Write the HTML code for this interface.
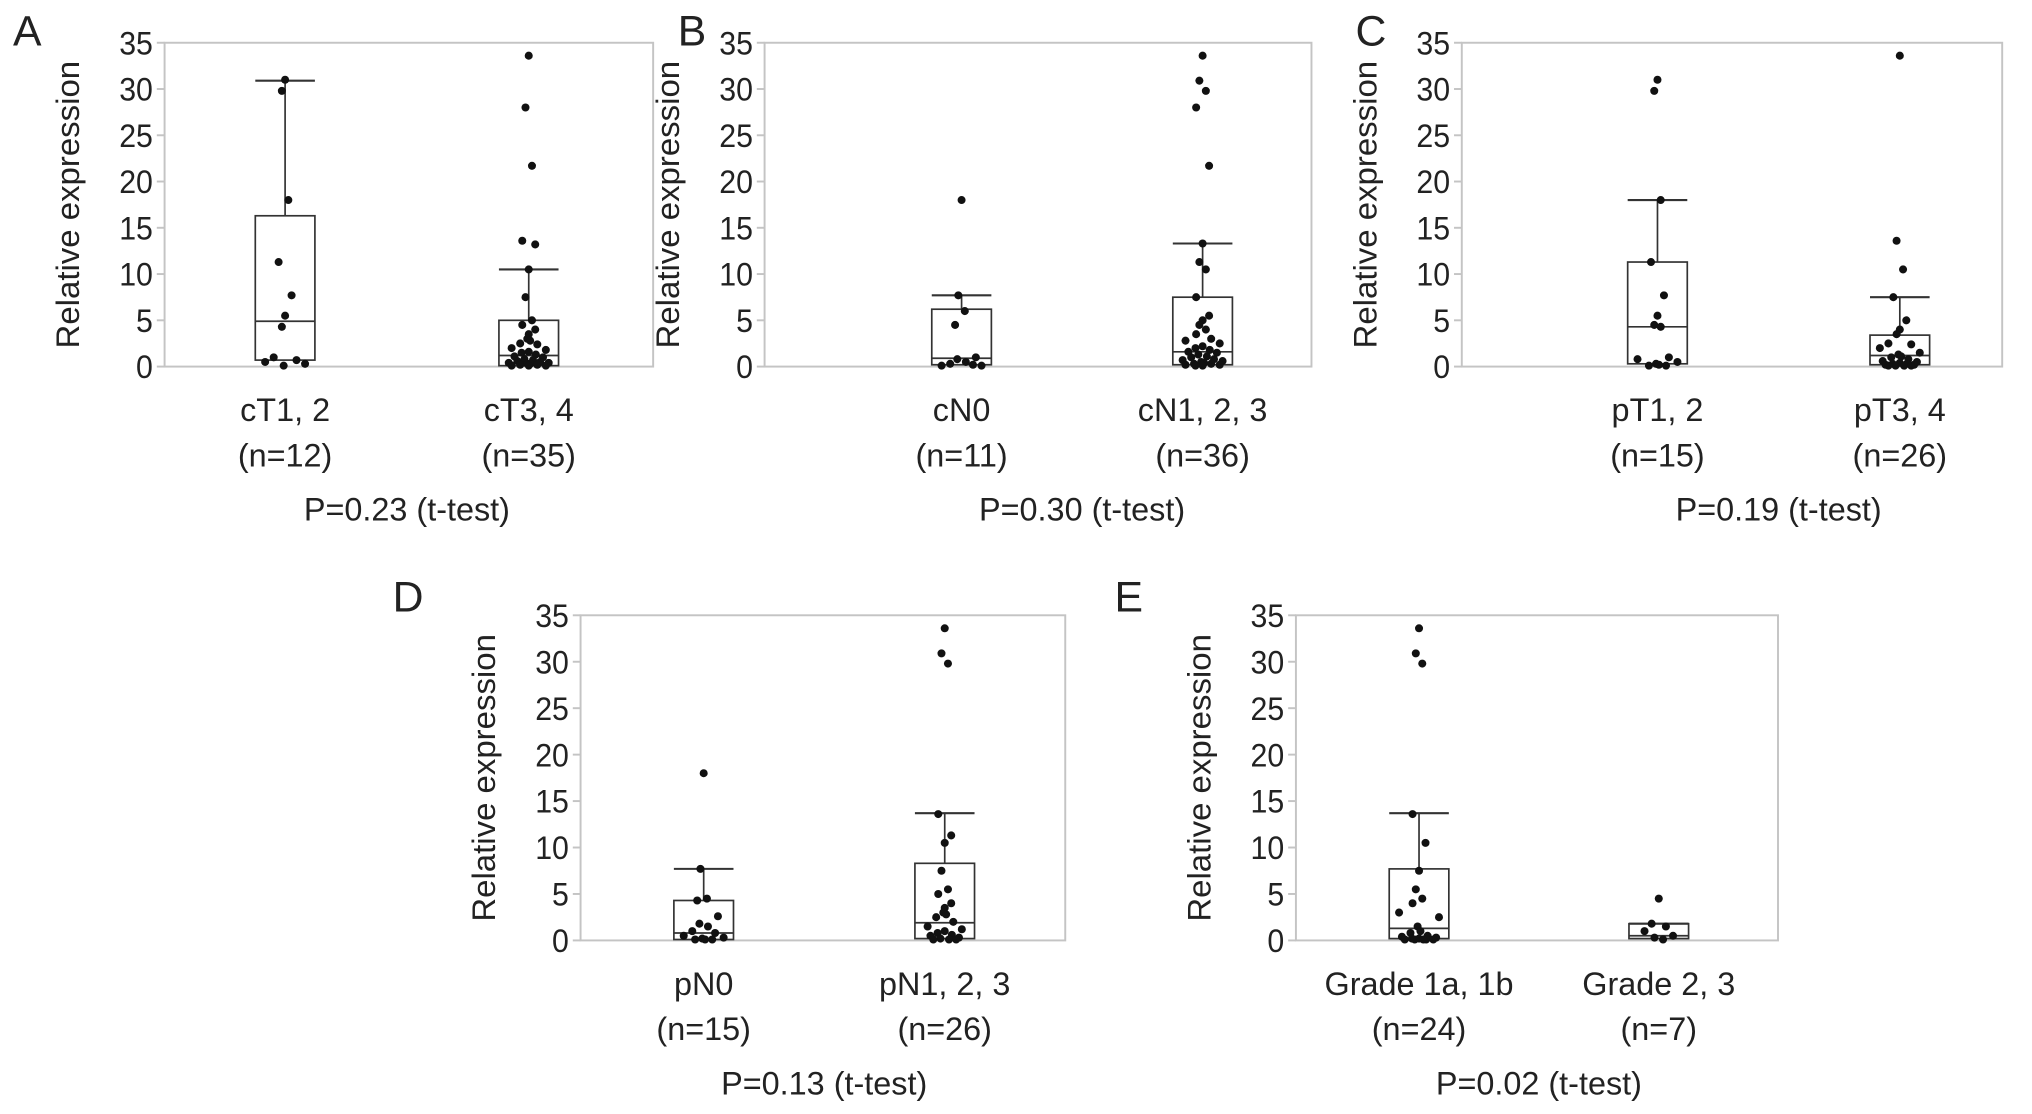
<!DOCTYPE html>
<html><head><meta charset="utf-8"><style>
html,body{margin:0;padding:0;background:#fff;}
svg{display:block;}
text{font-family:"Liberation Sans",Arial,sans-serif;fill:#222;}
</style></head>
<body>
<svg id="fig" width="2032" height="1114" viewBox="0 0 1568 860" preserveAspectRatio="none" xmlns="http://www.w3.org/2000/svg"></svg>
<script>
// ---- data ----
const yTicks = [0,5,10,15,20,25,30,35];
const panelLetters = ["A","B","C","D","E"];
const categoriesA = ["cT1, 2","cT3, 4"];
const categoriesB = ["cN0","cN1, 2, 3"];
const categoriesC = ["pT1, 2","pT3, 4"];
const categoriesD = ["pN0","pN1, 2, 3"];
const categoriesE = ["Grade 1a, 1b","Grade 2, 3"];
const nLabelsA = ["(n=12)","(n=35)"];
const nLabelsB = ["(n=11)","(n=36)"];
const nLabelsC = ["(n=15)","(n=26)"];
const nLabelsD = ["(n=15)","(n=26)"];
const nLabelsE = ["(n=24)","(n=7)"];
const pValues = ["P=0.23 (t-test)","P=0.30 (t-test)","P=0.19 (t-test)","P=0.13 (t-test)","P=0.02 (t-test)"];
// box stats: [q1, median, q3, whiskerTop]
const boxA = [[0.7,4.9,16.3,30.9],[0.1,1.2,5.0,10.5]];
const boxB = [[0.2,0.9,6.2,7.7],[0.2,1.6,7.5,13.3]];
const boxC = [[0.3,4.3,11.3,18.0],[0.2,1.2,3.4,7.5]];
const boxD = [[0.1,0.8,4.3,7.7],[0.2,1.9,8.3,13.7]];
const boxE = [[0.2,1.3,7.7,13.7],[0.2,0.5,1.8,1.8]];
// individual points
const ptsA1 = [31,29.8,18,11.3,7.7,5.5,4.3,1,0.7,0.5,0.3,0.1];
const ptsA2 = [33.6,28,21.7,13.6,13.2,10.5,7.5,5,4.5,4,3.5,3,2.8,2.5,2.4,2,1.8,1.6,1.5,1.3,1.1,1,0.8,0.7,0.6,0.5,0.4,0.4,0.3,0.3,0.2,0.2,0.1,0.1,0.1];
const ptsB1 = [18,7.7,6,4.5,1,0.8,0.5,0.3,0.2,0.1,0.1];
const ptsB2 = [33.6,30.9,29.8,28,21.7,13.3,11.3,10.5,7.5,5.5,5,4.5,4,3.5,3,2.8,2.5,2.2,2,1.8,1.6,1.5,1.3,1.1,1,0.8,0.7,0.6,0.5,0.4,0.3,0.3,0.2,0.2,0.1,0.1];
const ptsC1 = [31,29.8,18,11.3,7.7,5.5,4.5,4.3,1,0.8,0.5,0.3,0.2,0.1,0.1];
const ptsC2 = [33.6,13.6,10.5,7.5,5,4,3.5,2.5,2.4,2,1.5,1.3,1.1,1,0.8,0.6,0.5,0.4,0.3,0.3,0.2,0.2,0.1,0.1,0.1,0.1];
const ptsD1 = [18,7.7,4.5,4.3,2.6,1.8,1.5,1,0.8,0.5,0.3,0.2,0.1,0.1,0.1];
const ptsD2 = [33.6,30.9,29.8,13.6,11.3,10.5,7.5,5.5,5,4,3.5,3,2.8,2.5,2,1.5,1.2,1,0.8,0.6,0.5,0.3,0.2,0.1,0.1,0.1];
const ptsE1 = [33.6,30.9,29.8,13.6,10.5,7.5,5.5,4.5,4,3,2.5,1.5,1,0.8,0.5,0.4,0.3,0.2,0.2,0.1,0.1,0.1,0.1,0.1];
const ptsE2 = [4.5,1.8,1.5,1,0.5,0.3,0.1];

// ---- layout (style, not data) ----
const panels = [
 {x0:127,x1:504,y0:33,y1:283,cx:[220,408],lx:10,ly:35,cats:categoriesA,ns:nLabelsA,box:boxA,pts:[ptsA1,ptsA2]},
 {x0:590,x1:1012,y0:33,y1:283,cx:[742,928],lx:523,ly:35,cats:categoriesB,ns:nLabelsB,box:boxB,pts:[ptsB1,ptsB2]},
 {x0:1128,x1:1545,y0:33,y1:283,cx:[1279,1466],lx:1046,ly:35,cats:categoriesC,ns:nLabelsC,box:boxC,pts:[ptsC1,ptsC2]},
 {x0:448,x1:822,y0:475,y1:726,cx:[543,729],lx:303,ly:472,cats:categoriesD,ns:nLabelsD,box:boxD,pts:[ptsD1,ptsD2]},
 {x0:1000,x1:1372,y0:475,y1:726,cx:[1095,1280],lx:860,ly:472,cats:categoriesE,ns:nLabelsE,box:boxE,pts:[ptsE1,ptsE2]}
];
const NS="http://www.w3.org/2000/svg";
const svg=document.getElementById('fig');
function mk(tag,attrs,parent){const e=document.createElementNS(NS,tag);for(const k in attrs)e.setAttribute(k,attrs[k]);(parent||svg).appendChild(e);return e;}
const jitter=[0,-5,5,-10,10,-3,3,-8,8,-14,14,-1,1,-6,6,-12,12];

panels.forEach((p,pi)=>{
  const g=mk('g',{});
  
  
  const yS=v=>p.y1-(v/35)*(p.y1-p.y0);
  const lt=mk('text',{x:p.lx,y:p.ly,'font-size':33},g);lt.textContent=panelLetters[pi];
  
  const fr=mk('rect',{x:p.x0,y:p.y0,width:p.x1-p.x0,height:p.y1-p.y0,fill:'none',stroke:'#c4c4c4','stroke-width':1.5},g);
  
  yTicks.forEach(t=>{
    mk('line',{x1:p.x0-6,x2:p.x0,y1:yS(t),y2:yS(t),stroke:'#c4c4c4','stroke-width':1.5},g);
    const tl=mk('text',{x:p.x0-9,y:yS(t)+9,'font-size':25,'text-anchor':'end',textLength:t>=10?26:13,lengthAdjust:'spacingAndGlyphs'},g);tl.textContent=t;
    
  });
  const ym=(p.y0+p.y1)/2, tx=p.x0-66;
  const yt=mk('text',{x:tx,y:ym,'font-size':25,'text-anchor':'middle',textLength:222,lengthAdjust:'spacingAndGlyphs',transform:`rotate(-90 ${tx} ${ym})`},g);
  yt.textContent='Relative expression';
  
  p.cats.forEach((c,ci)=>{
    const cx=p.cx[ci], b=p.box[ci], hw=23;
    const wl=mk('line',{x1:cx,x2:cx,y1:yS(b[2]),y2:yS(b[3]),stroke:'#333','stroke-width':1.3},g);
    
    const wc=mk('line',{x1:cx-hw,x2:cx+hw,y1:yS(b[3]),y2:yS(b[3]),stroke:'#333','stroke-width':1.6},g);
    
    const bx=mk('rect',{x:cx-hw,y:yS(b[2]),width:2*hw,height:yS(b[0])-yS(b[2]),fill:'none',stroke:'#333','stroke-width':1.3},g);
    
    const md=mk('line',{x1:cx-hw,x2:cx+hw,y1:yS(b[1]),y2:yS(b[1]),stroke:'#333','stroke-width':1.3},g);
    
    p.pts[ci].forEach((v,vi)=>{
      const dx = v>3 ? jitter[vi%5]*0.5 : jitter[vi%jitter.length]*1.1;
      const d=mk('circle',{cx:cx+dx,cy:yS(v),r:3.1,fill:'#111'},g);
      
    });
    const cl=mk('text',{x:cx,y:p.y1+42,'font-size':25,'text-anchor':'middle'},g);cl.textContent=c;
    
    const nl=mk('text',{x:cx,y:p.y1+77,'font-size':25,'text-anchor':'middle'},g);nl.textContent=p.ns[ci];
    
  });
  const pv=mk('text',{x:(p.cx[0]+p.cx[1])/2,y:p.y1+119,'font-size':25,'text-anchor':'middle'},g);
  pv.textContent=pValues[pi];
  
});
</script>
</body></html>
